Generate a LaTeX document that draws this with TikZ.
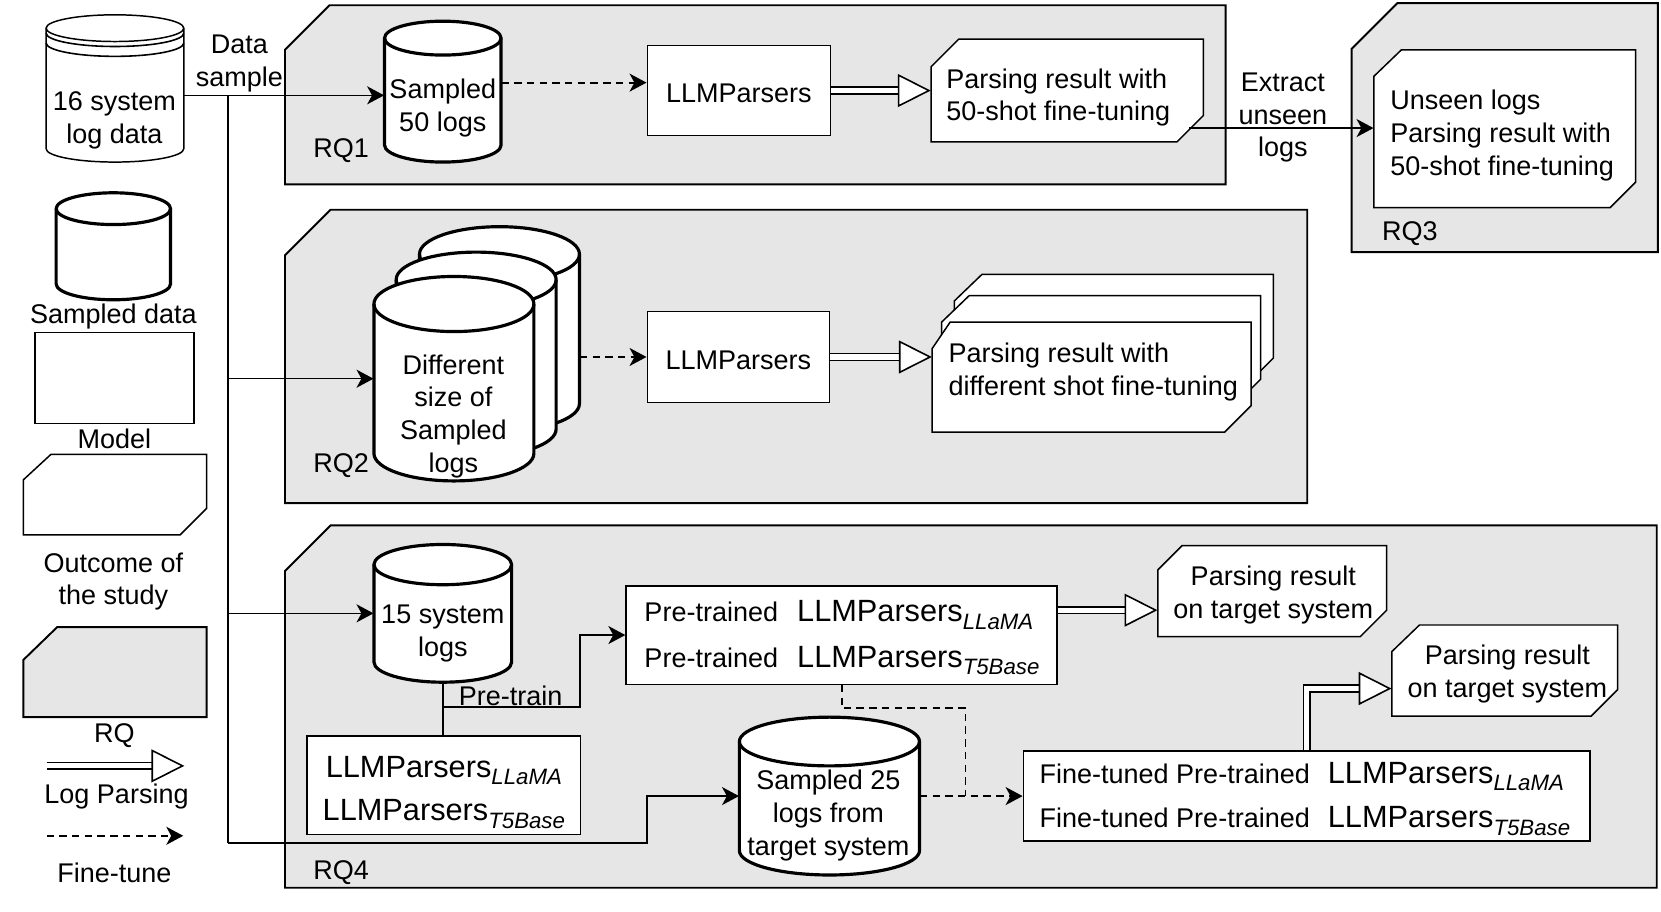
\documentclass[tikz,border=0pt]{standalone}
\usepackage{fontspec}
\setmainfont{Liberation Sans}
\usetikzlibrary{arrows.meta,calc,fit}
\definecolor{rqgray}{HTML}{E6E6E6}

% cylinder: #1 style, #2 name, #3 x1, #4 y1, #5 x2, #6 y2, #7 ry (px)
\newcommand\cylshape[7]{%
  \pgfmathsetmacro\cylrx{(#5-#3)/4}%
  \pgfmathsetmacro\cylry{#7/2}%
  \draw[#1] (#3,#4+#7) -- (#3,#6-#7)
     arc[start angle=180,end angle=360,x radius=\cylrx pt,y radius=\cylry pt]
     -- (#5,#4+#7)
     arc[start angle=0,end angle=180,x radius=\cylrx pt,y radius=\cylry pt] -- cycle;
  \draw[#1,fill=none] (#3,#4+#7)
     arc[start angle=180,end angle=360,x radius=\cylrx pt,y radius=\cylry pt];
  \node[fit={(#3,#4) (#5,#6)}] (#2) {};
}
% chamfered shape: #1 style, #2 name, #3 x1, #4 y1, #5 x2, #6 y2, #7 tl-x, #8 tl-y, #9 br
\newcommand\cutshape[9]{%
  \draw[#1] (#3,#4+#8) -- (#3+#7,#4) -- (#5,#4) -- (#5,#6-#9) -- (#5-#9,#6) -- (#3,#6) -- cycle;
  \node[fit={(#3,#4) (#5,#6)}] (#2) {};
}
\newcommand\LLMs[1]{{\fontsize{14.5}{17}\selectfont LLMParsers}\raisebox{-3.5pt}{\fontsize{10.5}{12}\selectfont\itshape #1}}

\tikzset{
  every node/.style={font=\fontsize{12.75}{15.5}\selectfont, inner sep=0pt},
  tx/.style={yshift=-1.5pt},
  thinbox/.style={draw, line width=0.7pt, fill=white},
  rqbox/.style={draw, line width=0.9pt, fill=rqgray},
  thickcyl/.style={draw, line width=1.5pt, fill=white},
  thincyl/.style={draw, line width=0.7pt, fill=white},
  conn/.style={line width=0.75pt},
  arr/.style={conn, -{Stealth[length=8pt,width=8.5pt,inset=2.3pt]}},
  ftline/.style={line width=0.85pt, dash pattern=on 3.5pt off 2.5pt},
  ftarr/.style={arr, line width=0.85pt, dash pattern=on 3.5pt off 2.5pt},
  hollow/.style={line width=0.75pt, double, double distance=2.4pt,
     -{Triangle[open, fill=white, length=15.5pt, width=15.5pt, line width=0.75pt]}},
  lbl/.style={tx, align=center},
  ltxt/.style={tx, align=left, anchor=west},
}

\begin{document}
\begin{tikzpicture}[x=0.5pt, y=-0.5pt]
\useasboundingbox (0,0) rectangle (1568,860);

% ---------- RQ frames ----------
\cutshape{rqbox}{rq1}{269}{5}{1157}{174}{42}{42}{0}
\cutshape{rqbox}{rq2}{269}{198}{1234}{475}{43}{43}{0}
\cutshape{rqbox}{rq3}{1276}{3}{1565}{238}{43}{43}{0}
\cutshape{rqbox}{rq4}{269}{496}{1564}{838}{43}{43}{0}
\node[tx] (rq1l) at (322,139) {RQ1};
\node[tx] (rq2l) at (322,437) {RQ2};
\node[tx] (rq3l) at (1331,218) {RQ3};
\node[tx] (rq4l) at (322,821) {RQ4};

% ---------- legend ----------
\cylshape{thincyl}{c16}{43.5}{14}{173.5}{153}{12.6}
\draw[conn] (43.5,31.3) arc[start angle=180,end angle=360,x radius=32.5pt,y radius=6.3pt];
\draw[conn] (43.5,40.6) arc[start angle=180,end angle=360,x radius=32.5pt,y radius=6.3pt];
\node[lbl] (c16t) at (108,111) {16 system\\log data};

\cylshape{thickcyl}{lgcyl}{53}{182}{161}{283}{15}
\node[tx] (lgcyll) at (107,296) {Sampled data};
\node[thinbox, fit={(33,314) (183,400)}] (lgmod) {};
\node[tx] (lgmodl) at (108,411) {Model};
\cutshape{thinbox}{lgout}{22}{429}{195}{505}{26}{24}{25}
\node[lbl] (lgoutl) at (107,546) {Outcome of\\the study};
\cutshape{rqbox}{lgrq}{22}{592}{195}{677}{32}{31}{0}
\node[tx] (lgrql) at (108,691) {RQ};
\coordinate (lpa) at (44,723);
\coordinate (lpb) at (174,723);
\draw[hollow] (lpa) -- (lpb);
\node[tx] (lpl) at (110,749) {Log Parsing};
\coordinate (fta) at (44,789);
\coordinate (ftb) at (173,789);
\draw[ftarr] (fta) -- (ftb);
\node[tx] (ftl) at (108,821) {Fine-tune};

% ---------- RQ1 ----------
\cylshape{thickcyl}{s50}{363}{20}{473}{153}{16}
\node[lbl] (s50t) at (418,99) {Sampled\\50 logs};
\node[thinbox, fit={(611,43) (784,128)}] (llm1) {};
\node[tx] (llm1t) at (llm1.center) {LLMParsers};
\cutshape{thinbox}{res1}{879}{37}{1136}{134}{26}{26}{25}
\node[ltxt] (res1t) at (893,89) {Parsing result with\\50-shot fine-tuning};

% ---------- RQ3 ----------
\cutshape{thinbox}{r3in}{1297}{47}{1544}{196}{26}{25}{24}
\node[ltxt] (r3t) at (1312,125) {Unseen logs\\Parsing result with\\50-shot fine-tuning};
\node[lbl] (ext) at (1211,108) {Extract\\unseen\\logs};

% ---------- RQ2 ----------
\cylshape{thickcyl}{cb}{396}{214}{547}{407}{26}
\cylshape{thickcyl}{cm}{374}{238}{525}{431}{26}
\cylshape{thickcyl}{cf}{353}{261}{504}{454}{26}
\node[lbl] (cft) at (428,390) {Different\\size of\\Sampled\\logs};
\node[thinbox, fit={(611,294) (783,380)}] (llm2) {};
\node[tx] (llm2t) at (llm2.center) {LLMParsers};
\cutshape{thinbox}{r2b}{901}{259}{1202}{363}{26}{25}{25}
\cutshape{thinbox}{r2m}{889}{279}{1190}{383}{26}{25}{25}
\cutshape{thinbox}{r2f}{880}{304}{1181}{408}{17}{25}{25}
\node[ltxt] (r2t) at (895,348) {Parsing result with\\different shot fine-tuning};

% ---------- RQ4 ----------
\cylshape{thickcyl}{c15}{353}{514}{483}{644}{19}
\node[lbl] (c15t) at (418,595) {15 system\\logs};
\node[thinbox, fit={(290,695) (548,788)}] (llmb) {};
\node[lbl, font=\fontsize{14.5}{20.5}\selectfont] (llmbt) at (419,745) {\LLMs{LLaMA}\\\LLMs{T5Base}};
\node[thinbox, fit={(591,553) (998,646)}] (ptbox) {};
\node[ltxt, font=\fontsize{12.75}{21.5}\selectfont] (ptt) at (608,599)
   {Pre-trained\hspace{9pt}\LLMs{LLaMA}\\Pre-trained\hspace{9pt}\LLMs{T5Base}};
\node[tx] (ptl) at (482,654) {Pre-train};
\cylshape{thickcyl}{s25}{698}{677}{868}{826}{23}
\node[lbl] (s25t) at (782,767) {Sampled 25\\logs from\\target system};
\node[thinbox, fit={(966,709) (1501,794)}] (ftbox) {};
\node[ltxt, font=\fontsize{12.75}{21}\selectfont] (ftt) at (981,751)
   {Fine-tuned Pre-trained\hspace{8.5pt}\LLMs{LLaMA}\\Fine-tuned Pre-trained\hspace{8.5pt}\LLMs{T5Base}};
\cutshape{thinbox}{r4a}{1093}{515}{1309}{601}{23}{23}{25}
\node[lbl] (r4at) at (1202,559) {Parsing result\\on target system};
\cutshape{thinbox}{r4b}{1314}{590}{1527}{676}{26}{25}{25}
\node[lbl] (r4bt) at (1423,633) {Parsing result\\on target system};

% ---------- connectors ----------
\coordinate (j0) at (215,90);
\coordinate (jb) at (215,796);
\coordinate (kb) at (611,796);
\draw[conn] (j0) -- (jb);
\node[lbl] (dsl) at (226,57) {Data\\sample};
\draw[arr] (c16.east |- j0) -- (j0 -| s50.west);
\draw[arr] (j0 |- cf.west) -- (cf.west);
\draw[arr] (j0 |- c15.west) -- (c15.west);
\draw[arr] (jb) -- (kb) |- (s25.west);

\draw[ftarr] ($(s50.east)+(0,-8.5)$) -- ($(llm1.west)+(0,-7.5)$);
\draw[hollow] (llm1.east) -- (res1.west);
\coordinate (ex) at ($(res1.south east)+(-14,-13.5)$);
\draw[arr] (ex) -- (ex -| r3in.west);

\draw[ftarr] (cb.east |- llm2.west) -- (llm2.west);
\draw[hollow] (llm2.east) -- (llm2.east -| r2f.west);

\draw[conn] (c15.south) -- (c15.south |- llmb.north);
\coordinate (ptj) at ($(c15.south)+(0,23)$);
\draw[arr] (ptj) -| ($(ptbox.west)+(-43,0)$) -- (ptbox.west);
\coordinate (fj) at ($(s25.east)+(43,0)$);
\draw[ftline] (ptbox.south) -- ++(0,22) -| (fj);
\draw[ftarr] (s25.east) -- (ftbox.west);
\coordinate (h3) at ($(ptbox.east)+(0,-23.5)$);
\draw[hollow] (h3) -- (h3 -| r4a.west);
\draw[hollow] (ftbox.north) |- ($(r4b.west)+(0,17)$);
\end{tikzpicture}
\end{document}
